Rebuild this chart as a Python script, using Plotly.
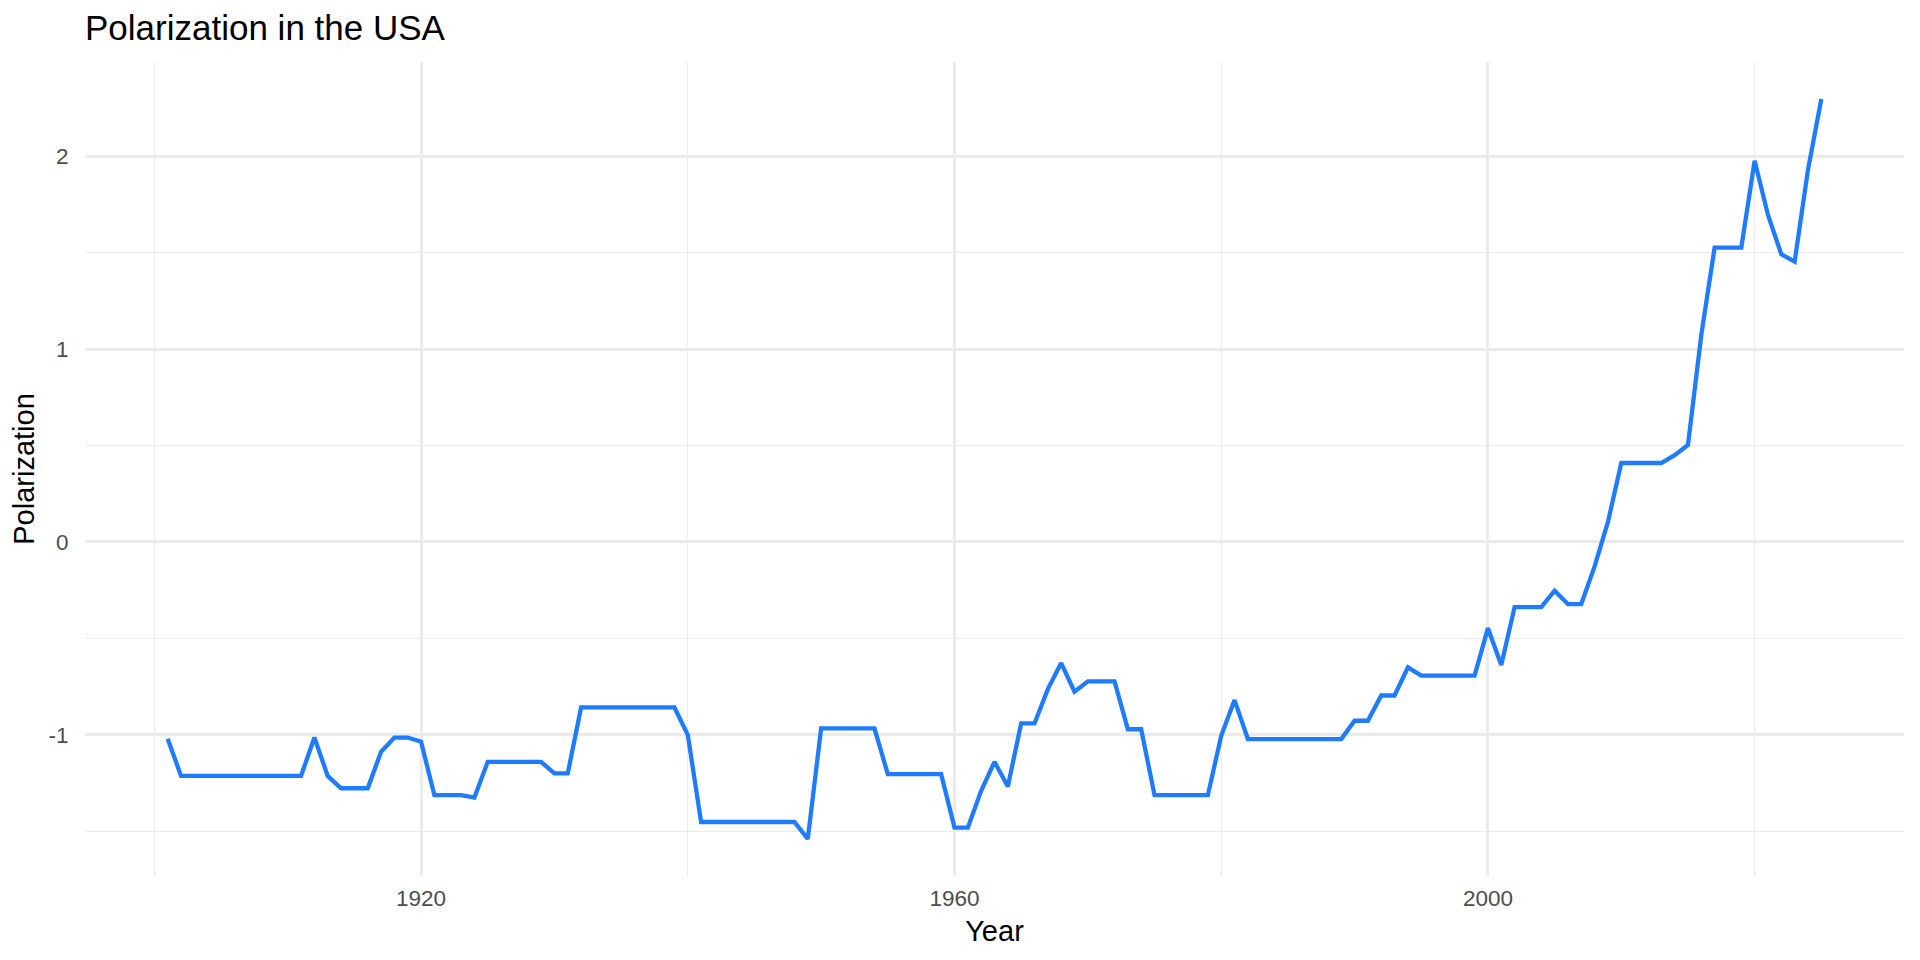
import plotly.graph_objects as go

years = list(range(1901, 2026))
polarization = [
    -1.02,                                                                   # 1901
    -1.213, -1.213, -1.213, -1.213, -1.213, -1.213, -1.213, -1.213, -1.213, -1.213,  # 1902-1911
    -1.014, -1.213, -1.277, -1.277, -1.277, -1.088, -1.014, -1.014, -1.036,  # 1912-1920
    -1.313, -1.313, -1.313, -1.325, -1.14, -1.14, -1.14, -1.14, -1.14, -1.20,  # 1921-1930
    -1.20, -0.858, -0.858, -0.858, -0.858, -0.858, -0.858, -0.858, -0.858, -1.0,  # 1931-1940
    -1.452, -1.452, -1.452, -1.452, -1.452, -1.452, -1.452, -1.452, -1.54, -0.967,  # 1941-1950
    -0.967, -0.967, -0.967, -0.967, -1.204, -1.204, -1.204, -1.204, -1.204, -1.481,  # 1951-1960
    -1.481, -1.29, -1.14, -1.268, -0.941, -0.941, -0.763, -0.628, -0.776, -0.723,  # 1961-1970
    -0.723, -0.723, -0.971, -0.971, -1.313, -1.313, -1.313, -1.313, -1.313, -1.005,  # 1971-1980
    -0.82, -1.022, -1.022, -1.022, -1.022, -1.022, -1.022, -1.022, -1.022, -0.927,  # 1981-1990
    -0.927, -0.796, -0.796, -0.65, -0.693, -0.693, -0.693, -0.693, -0.693, -0.447,  # 1991-2000
    -0.638, -0.338, -0.338, -0.338, -0.253, -0.322, -0.322, -0.127, 0.104, 0.409,  # 2001-2010
    0.409, 0.409, 0.409, 0.45, 0.502, 1.073, 1.526, 1.526, 1.526, 1.976,  # 2011-2020
    1.695, 1.491, 1.453, 1.929, 2.296,  # 2021-2025
]
assert len(years) == len(polarization)

x_major = [1920, 1960, 2000]
x_minor = [1900, 1940, 1980, 2020]
y_major = [-1, 0, 1, 2]
y_minor = [-1.5, -0.5, 0.5, 1.5]
y_labels = ["-1", "0", "1", "2"]

title_text = "Polarization in the USA"
x_title = "Year"
y_title = "Polarization"

FONT = "Liberation Sans, Arial, Helvetica, sans-serif"
GRID = "#EBEBEB"

# The page body has an 8px default margin; size the figure so it fits the
# 1920x960 window exactly and the panel lands where the reference has it.
W, H = 1904, 944

fig = go.Figure()
fig.add_trace(go.Scatter(
    x=years, y=polarization, mode="lines",
    line=dict(color="#1F7BFF", width=4.3),
    showlegend=False, hoverinfo="x+y",
))

xmin, xmax = min(years), max(years)
ymin, ymax = min(polarization), max(polarization)
xpad = 0.05 * (xmax - xmin)
ypad = 0.05 * (ymax - ymin)

fig.update_layout(
    width=W, height=H,
    margin=dict(l=75, r=8, t=54, b=76),
    paper_bgcolor="white", plot_bgcolor="white",
    font=dict(family=FONT, color="black"),
    title=dict(text=title_text, x=0, xref="paper", xanchor="left",
               y=1 - 20 / H, yref="container", yanchor="middle",
               font=dict(size=35, color="black", family=FONT)),
    xaxis=dict(
        range=[xmin - xpad, xmax + xpad],
        tickmode="array", tickvals=x_major, ticktext=[str(v) for v in x_major],
        showgrid=True, gridcolor=GRID, gridwidth=2.6,
        minor=dict(tickmode="array", tickvals=x_minor, showgrid=True,
                   gridcolor=GRID, gridwidth=1.3, ticks=""),
        zeroline=False, showline=False,
        ticks="outside", ticklen=2, tickcolor="rgba(0,0,0,0)",
        tickfont=dict(size=22.5, color="#4D4D4D", family=FONT),
        title=dict(text=x_title, font=dict(size=29, color="black", family=FONT), standoff=10),
    ),
    yaxis=dict(
        range=[ymin - ypad, ymax + ypad],
        tickmode="array", tickvals=y_major, ticktext=y_labels,
        showgrid=True, gridcolor=GRID, gridwidth=2.6,
        minor=dict(tickmode="array", tickvals=y_minor, showgrid=True,
                   gridcolor=GRID, gridwidth=1.3, ticks=""),
        zeroline=False, showline=False,
        ticks="outside", ticklen=11, tickcolor="rgba(0,0,0,0)",
        tickfont=dict(size=22.5, color="#4D4D4D", family=FONT),
        title=dict(text=y_title, font=dict(size=29, color="black", family=FONT), standoff=12),
    ),
)

fig.write_html("out.html")
